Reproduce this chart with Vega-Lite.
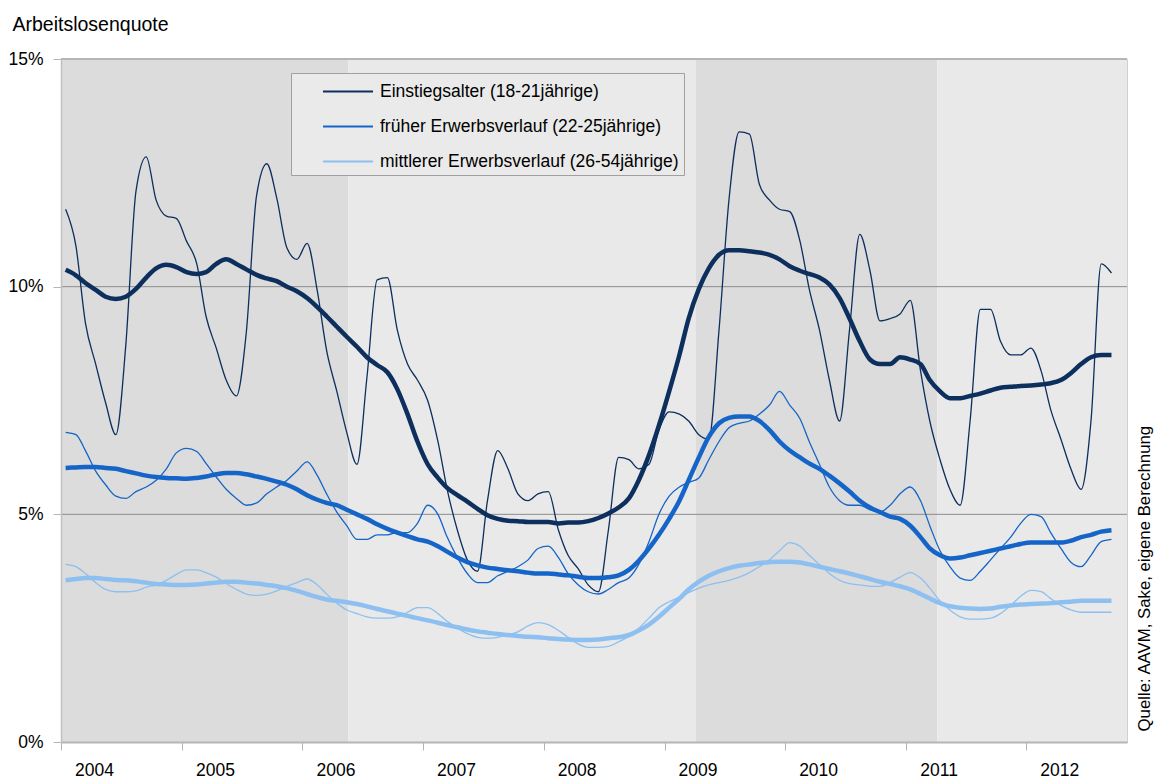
{
  "$schema": "https://vega.github.io/schema/vega-lite/v6.json",
  "width": 1066,
  "height": 683,
  "autosize": "none",
  "padding": {"left": 61, "top": 59, "right": 31, "bottom": 41},
  "background": "white",
  "config": {
    "font": "Liberation Sans",
    "view": {"stroke": "#d0d0d0", "strokeWidth": 1},
    "axis": {"labelFont": "Liberation Sans", "titleFont": "Liberation Sans", "labelColor": "#000000", "titleColor": "#000000", "titleFontWeight": "normal"},
    "legend": {"labelFont": "Liberation Sans"}
  },
  "datasets": {
    "raw": [
      {"d":"2004-01-15","E":11.7,"F":6.8,"M":3.9},
      {"d":"2004-02-15","E":10.9,"F":6.75,"M":3.85},
      {"d":"2004-03-15","E":9.2,"F":6.4,"M":3.7},
      {"d":"2004-04-15","E":8.3,"F":5.95,"M":3.5},
      {"d":"2004-05-15","E":7.45,"F":5.65,"M":3.35},
      {"d":"2004-06-15","E":6.75,"F":5.4,"M":3.3},
      {"d":"2004-07-15","E":8.7,"F":5.35,"M":3.3},
      {"d":"2004-08-15","E":12.1,"F":5.5,"M":3.32},
      {"d":"2004-09-15","E":12.85,"F":5.6,"M":3.4},
      {"d":"2004-10-15","E":11.9,"F":5.75,"M":3.45},
      {"d":"2004-11-15","E":11.55,"F":6.0,"M":3.55},
      {"d":"2004-12-15","E":11.5,"F":6.35,"M":3.68},
      {"d":"2005-01-15","E":11.0,"F":6.45,"M":3.78},
      {"d":"2005-02-15","E":10.5,"F":6.38,"M":3.78},
      {"d":"2005-03-15","E":9.35,"F":6.12,"M":3.72},
      {"d":"2005-04-15","E":8.65,"F":5.82,"M":3.62},
      {"d":"2005-05-15","E":7.95,"F":5.55,"M":3.48},
      {"d":"2005-06-15","E":7.6,"F":5.35,"M":3.35},
      {"d":"2005-07-15","E":9.0,"F":5.2,"M":3.25},
      {"d":"2005-08-15","E":12.0,"F":5.25,"M":3.22},
      {"d":"2005-09-15","E":12.7,"F":5.45,"M":3.25},
      {"d":"2005-10-15","E":11.95,"F":5.6,"M":3.32},
      {"d":"2005-11-15","E":10.85,"F":5.75,"M":3.42},
      {"d":"2005-12-15","E":10.6,"F":5.95,"M":3.5},
      {"d":"2006-01-15","E":10.95,"F":6.15,"M":3.58},
      {"d":"2006-02-15","E":9.9,"F":5.85,"M":3.45},
      {"d":"2006-03-15","E":8.6,"F":5.45,"M":3.25},
      {"d":"2006-04-15","E":7.7,"F":5.05,"M":3.05},
      {"d":"2006-05-15","E":6.8,"F":4.75,"M":2.9},
      {"d":"2006-06-15","E":6.1,"F":4.45,"M":2.82},
      {"d":"2006-07-15","E":8.0,"F":4.45,"M":2.75},
      {"d":"2006-08-15","E":10.15,"F":4.55,"M":2.72},
      {"d":"2006-09-15","E":10.2,"F":4.55,"M":2.72},
      {"d":"2006-10-15","E":9.05,"F":4.6,"M":2.75},
      {"d":"2006-11-15","E":8.3,"F":4.6,"M":2.85},
      {"d":"2006-12-15","E":7.95,"F":4.8,"M":2.95},
      {"d":"2007-01-15","E":7.5,"F":5.2,"M":2.95},
      {"d":"2007-02-15","E":6.6,"F":5.0,"M":2.82},
      {"d":"2007-03-15","E":5.55,"F":4.5,"M":2.65},
      {"d":"2007-04-15","E":4.65,"F":4.05,"M":2.5},
      {"d":"2007-05-15","E":4.0,"F":3.7,"M":2.38},
      {"d":"2007-06-15","E":3.75,"F":3.5,"M":2.3},
      {"d":"2007-07-15","E":5.3,"F":3.5,"M":2.28},
      {"d":"2007-08-15","E":6.4,"F":3.65,"M":2.3},
      {"d":"2007-09-15","E":6.0,"F":3.75,"M":2.35},
      {"d":"2007-10-15","E":5.45,"F":3.85,"M":2.42},
      {"d":"2007-11-15","E":5.3,"F":4.0,"M":2.55},
      {"d":"2007-12-15","E":5.45,"F":4.25,"M":2.62},
      {"d":"2008-01-15","E":5.5,"F":4.3,"M":2.58},
      {"d":"2008-02-15","E":4.65,"F":4.05,"M":2.45},
      {"d":"2008-03-15","E":4.1,"F":3.7,"M":2.3},
      {"d":"2008-04-15","E":3.8,"F":3.45,"M":2.15},
      {"d":"2008-05-15","E":3.45,"F":3.3,"M":2.08},
      {"d":"2008-06-15","E":3.3,"F":3.25,"M":2.08},
      {"d":"2008-07-15","E":4.65,"F":3.35,"M":2.1},
      {"d":"2008-08-15","E":6.25,"F":3.5,"M":2.2},
      {"d":"2008-09-15","E":6.2,"F":3.6,"M":2.32},
      {"d":"2008-10-15","E":6.0,"F":3.9,"M":2.5},
      {"d":"2008-11-15","E":6.1,"F":4.4,"M":2.72},
      {"d":"2008-12-15","E":6.85,"F":5.0,"M":2.95},
      {"d":"2009-01-15","E":7.25,"F":5.4,"M":3.08},
      {"d":"2009-02-15","E":7.2,"F":5.6,"M":3.18},
      {"d":"2009-03-15","E":7.05,"F":5.7,"M":3.28},
      {"d":"2009-04-15","E":6.75,"F":5.8,"M":3.38},
      {"d":"2009-05-15","E":6.65,"F":6.2,"M":3.45},
      {"d":"2009-06-15","E":9.05,"F":6.6,"M":3.5},
      {"d":"2009-07-15","E":11.9,"F":6.9,"M":3.55},
      {"d":"2009-08-15","E":13.4,"F":7.0,"M":3.62},
      {"d":"2009-09-15","E":13.35,"F":7.05,"M":3.72},
      {"d":"2009-10-15","E":12.25,"F":7.2,"M":3.85},
      {"d":"2009-11-15","E":11.9,"F":7.4,"M":4.0},
      {"d":"2009-12-15","E":11.7,"F":7.7,"M":4.2},
      {"d":"2010-01-15","E":11.65,"F":7.4,"M":4.38},
      {"d":"2010-02-15","E":11.0,"F":7.1,"M":4.3},
      {"d":"2010-03-15","E":9.95,"F":6.6,"M":4.1},
      {"d":"2010-04-15","E":9.05,"F":6.1,"M":3.9},
      {"d":"2010-05-15","E":7.95,"F":5.6,"M":3.7},
      {"d":"2010-06-15","E":7.05,"F":5.3,"M":3.55},
      {"d":"2010-07-15","E":9.05,"F":5.2,"M":3.48},
      {"d":"2010-08-15","E":11.15,"F":5.2,"M":3.45},
      {"d":"2010-09-15","E":10.35,"F":5.1,"M":3.42},
      {"d":"2010-10-15","E":9.25,"F":5.05,"M":3.42},
      {"d":"2010-11-15","E":9.3,"F":5.2,"M":3.5},
      {"d":"2010-12-15","E":9.4,"F":5.45,"M":3.62},
      {"d":"2011-01-15","E":9.7,"F":5.6,"M":3.72},
      {"d":"2011-02-15","E":8.15,"F":5.3,"M":3.6},
      {"d":"2011-03-15","E":7.05,"F":4.75,"M":3.38},
      {"d":"2011-04-15","E":6.2,"F":4.2,"M":3.1},
      {"d":"2011-05-15","E":5.55,"F":3.85,"M":2.9},
      {"d":"2011-06-15","E":5.2,"F":3.6,"M":2.75},
      {"d":"2011-07-15","E":7.05,"F":3.55,"M":2.7},
      {"d":"2011-08-15","E":9.5,"F":3.75,"M":2.7},
      {"d":"2011-09-15","E":9.5,"F":4.0,"M":2.72},
      {"d":"2011-10-15","E":8.8,"F":4.25,"M":2.82},
      {"d":"2011-11-15","E":8.5,"F":4.5,"M":3.0},
      {"d":"2011-12-15","E":8.5,"F":4.8,"M":3.2},
      {"d":"2012-01-15","E":8.65,"F":5.0,"M":3.33},
      {"d":"2012-02-15","E":8.15,"F":4.95,"M":3.3},
      {"d":"2012-03-15","E":7.3,"F":4.6,"M":3.15},
      {"d":"2012-04-15","E":6.65,"F":4.25,"M":3.0},
      {"d":"2012-05-15","E":6.0,"F":3.95,"M":2.9},
      {"d":"2012-06-15","E":5.55,"F":3.85,"M":2.85},
      {"d":"2012-07-15","E":7.05,"F":4.1,"M":2.85},
      {"d":"2012-08-15","E":10.5,"F":4.4,"M":2.85},
      {"d":"2012-09-15","E":10.3,"F":4.45,"M":2.85}
    ],
    "trend": [
      {"d":"2004-01-15","E":10.37,"F":6.02,"M":3.55},
      {"d":"2004-02-15","E":10.25,"F":6.03,"M":3.58},
      {"d":"2004-03-15","E":10.08,"F":6.04,"M":3.6},
      {"d":"2004-04-15","E":9.93,"F":6.04,"M":3.6},
      {"d":"2004-05-15","E":9.78,"F":6.02,"M":3.58},
      {"d":"2004-06-15","E":9.73,"F":6.0,"M":3.56},
      {"d":"2004-07-15","E":9.78,"F":5.95,"M":3.55},
      {"d":"2004-08-15","E":9.95,"F":5.9,"M":3.53},
      {"d":"2004-09-15","E":10.2,"F":5.85,"M":3.5},
      {"d":"2004-10-15","E":10.4,"F":5.82,"M":3.47},
      {"d":"2004-11-15","E":10.48,"F":5.8,"M":3.46},
      {"d":"2004-12-15","E":10.43,"F":5.79,"M":3.45},
      {"d":"2005-01-15","E":10.32,"F":5.78,"M":3.45},
      {"d":"2005-02-15","E":10.28,"F":5.8,"M":3.46},
      {"d":"2005-03-15","E":10.32,"F":5.83,"M":3.48},
      {"d":"2005-04-15","E":10.5,"F":5.88,"M":3.5},
      {"d":"2005-05-15","E":10.6,"F":5.91,"M":3.52},
      {"d":"2005-06-15","E":10.5,"F":5.91,"M":3.52},
      {"d":"2005-07-15","E":10.38,"F":5.88,"M":3.5},
      {"d":"2005-08-15","E":10.26,"F":5.83,"M":3.48},
      {"d":"2005-09-15","E":10.18,"F":5.78,"M":3.45},
      {"d":"2005-10-15","E":10.12,"F":5.72,"M":3.42},
      {"d":"2005-11-15","E":10.0,"F":5.65,"M":3.38},
      {"d":"2005-12-15","E":9.9,"F":5.55,"M":3.32},
      {"d":"2006-01-15","E":9.75,"F":5.42,"M":3.25},
      {"d":"2006-02-15","E":9.55,"F":5.32,"M":3.18},
      {"d":"2006-03-15","E":9.35,"F":5.25,"M":3.13},
      {"d":"2006-04-15","E":9.12,"F":5.2,"M":3.1},
      {"d":"2006-05-15","E":8.9,"F":5.1,"M":3.07},
      {"d":"2006-06-15","E":8.68,"F":5.0,"M":3.03},
      {"d":"2006-07-15","E":8.45,"F":4.9,"M":2.98},
      {"d":"2006-08-15","E":8.28,"F":4.78,"M":2.92},
      {"d":"2006-09-15","E":8.12,"F":4.68,"M":2.87},
      {"d":"2006-10-15","E":7.75,"F":4.6,"M":2.82},
      {"d":"2006-11-15","E":7.2,"F":4.52,"M":2.77},
      {"d":"2006-12-15","E":6.6,"F":4.45,"M":2.72},
      {"d":"2007-01-15","E":6.1,"F":4.4,"M":2.67},
      {"d":"2007-02-15","E":5.8,"F":4.3,"M":2.62},
      {"d":"2007-03-15","E":5.58,"F":4.18,"M":2.57},
      {"d":"2007-04-15","E":5.42,"F":4.05,"M":2.52},
      {"d":"2007-05-15","E":5.28,"F":3.95,"M":2.47},
      {"d":"2007-06-15","E":5.12,"F":3.88,"M":2.43},
      {"d":"2007-07-15","E":4.98,"F":3.83,"M":2.4},
      {"d":"2007-08-15","E":4.9,"F":3.8,"M":2.37},
      {"d":"2007-09-15","E":4.86,"F":3.77,"M":2.35},
      {"d":"2007-10-15","E":4.85,"F":3.75,"M":2.33},
      {"d":"2007-11-15","E":4.83,"F":3.72,"M":2.31},
      {"d":"2007-12-15","E":4.83,"F":3.7,"M":2.3},
      {"d":"2008-01-15","E":4.83,"F":3.7,"M":2.28},
      {"d":"2008-02-15","E":4.8,"F":3.68,"M":2.26},
      {"d":"2008-03-15","E":4.82,"F":3.66,"M":2.25},
      {"d":"2008-04-15","E":4.82,"F":3.63,"M":2.24},
      {"d":"2008-05-15","E":4.85,"F":3.6,"M":2.24},
      {"d":"2008-06-15","E":4.92,"F":3.6,"M":2.25},
      {"d":"2008-07-15","E":5.02,"F":3.62,"M":2.28},
      {"d":"2008-08-15","E":5.15,"F":3.66,"M":2.3},
      {"d":"2008-09-15","E":5.35,"F":3.78,"M":2.35},
      {"d":"2008-10-15","E":5.75,"F":3.98,"M":2.45},
      {"d":"2008-11-15","E":6.3,"F":4.25,"M":2.58},
      {"d":"2008-12-15","E":6.95,"F":4.55,"M":2.75},
      {"d":"2009-01-15","E":7.7,"F":4.9,"M":2.95},
      {"d":"2009-02-15","E":8.5,"F":5.3,"M":3.15},
      {"d":"2009-03-15","E":9.3,"F":5.75,"M":3.35},
      {"d":"2009-04-15","E":9.95,"F":6.25,"M":3.52},
      {"d":"2009-05-15","E":10.4,"F":6.7,"M":3.65},
      {"d":"2009-06-15","E":10.7,"F":7.0,"M":3.75},
      {"d":"2009-07-15","E":10.8,"F":7.12,"M":3.82},
      {"d":"2009-08-15","E":10.8,"F":7.15,"M":3.87},
      {"d":"2009-09-15","E":10.78,"F":7.15,"M":3.9},
      {"d":"2009-10-15","E":10.75,"F":7.05,"M":3.93},
      {"d":"2009-11-15","E":10.7,"F":6.85,"M":3.95},
      {"d":"2009-12-15","E":10.6,"F":6.6,"M":3.96},
      {"d":"2010-01-15","E":10.45,"F":6.4,"M":3.96},
      {"d":"2010-02-15","E":10.35,"F":6.25,"M":3.94},
      {"d":"2010-03-15","E":10.28,"F":6.12,"M":3.9},
      {"d":"2010-04-15","E":10.2,"F":6.0,"M":3.85},
      {"d":"2010-05-15","E":10.05,"F":5.85,"M":3.8},
      {"d":"2010-06-15","E":9.75,"F":5.68,"M":3.75},
      {"d":"2010-07-15","E":9.3,"F":5.5,"M":3.7},
      {"d":"2010-08-15","E":8.8,"F":5.3,"M":3.64},
      {"d":"2010-09-15","E":8.4,"F":5.15,"M":3.58},
      {"d":"2010-10-15","E":8.3,"F":5.05,"M":3.52},
      {"d":"2010-11-15","E":8.3,"F":4.95,"M":3.47},
      {"d":"2010-12-15","E":8.45,"F":4.9,"M":3.42},
      {"d":"2011-01-15","E":8.4,"F":4.75,"M":3.35},
      {"d":"2011-02-15","E":8.3,"F":4.5,"M":3.25},
      {"d":"2011-03-15","E":7.95,"F":4.25,"M":3.15},
      {"d":"2011-04-15","E":7.7,"F":4.1,"M":3.05},
      {"d":"2011-05-15","E":7.55,"F":4.03,"M":2.98},
      {"d":"2011-06-15","E":7.55,"F":4.05,"M":2.95},
      {"d":"2011-07-15","E":7.6,"F":4.1,"M":2.93},
      {"d":"2011-08-15","E":7.65,"F":4.15,"M":2.92},
      {"d":"2011-09-15","E":7.72,"F":4.2,"M":2.93},
      {"d":"2011-10-15","E":7.78,"F":4.25,"M":2.97},
      {"d":"2011-11-15","E":7.8,"F":4.3,"M":3.0},
      {"d":"2011-12-15","E":7.82,"F":4.35,"M":3.02},
      {"d":"2012-01-15","E":7.83,"F":4.38,"M":3.03},
      {"d":"2012-02-15","E":7.85,"F":4.38,"M":3.04},
      {"d":"2012-03-15","E":7.88,"F":4.38,"M":3.05},
      {"d":"2012-04-15","E":7.95,"F":4.38,"M":3.07},
      {"d":"2012-05-15","E":8.1,"F":4.42,"M":3.08},
      {"d":"2012-06-15","E":8.3,"F":4.5,"M":3.1},
      {"d":"2012-07-15","E":8.45,"F":4.55,"M":3.1},
      {"d":"2012-08-15","E":8.5,"F":4.62,"M":3.1},
      {"d":"2012-09-15","E":8.5,"F":4.65,"M":3.1}
    ],
    "bands": [
      {"s":"2004-01-01","e":"2006-05-20","k":"dunkel"},
      {"s":"2006-05-20","e":"2009-04-05","k":"hell"},
      {"s":"2009-04-05","e":"2011-04-07","k":"dunkel"},
      {"s":"2011-04-07","e":"2012-11-01","k":"hell"}
    ],
    "lines": [
      {"v":5,"k":"grid"},
      {"v":10,"k":"grid"},
      {"v":15,"k":"top"}
    ]
  },
  "layer": [
    {
      "data": {"name": "bands"},
      "mark": {"type": "rect"},
      "encoding": {
        "x": {"field": "s", "type": "temporal", "title": null,
          "scale": {"type": "utc", "domain": [{"year":2004,"month":1,"date":1,"utc":true},{"year":2012,"month":11,"date":1,"utc":true}]},
          "axis": {
            "values": [{"year":2004,"utc":true},{"year":2005,"utc":true},{"year":2006,"utc":true},{"year":2007,"utc":true},{"year":2008,"utc":true},{"year":2009,"utc":true},{"year":2010,"utc":true},{"year":2011,"utc":true},{"year":2012,"utc":true}],
            "format": "%Y", "formatType": "utc",
            "labelOffset": 33, "labelFontSize": 17.5, "labelPadding": 11, "labelAlign": "center",
            "tickSize": 8, "tickColor": "#b5b5b5", "tickWidth": 1,
            "domainColor": "#b5b5b5", "domainWidth": 2, "grid": false, "zindex": 1
          }
        },
        "x2": {"field": "e"},
        "y": {"datum": 0, "type": "quantitative", "scale": {"domain": [0, 15], "nice": false},
          "axis": {
            "values": [0, 5, 10, 15], "labelExpr": "datum.value + '%'",
            "labelFontSize": 17.5, "labelPadding": 10, "tickSize": 8, "tickColor": "#b5b5b5",
            "domainColor": "#c0c0c0", "domainWidth": 1.5, "grid": false, "zindex": 1,
            "title": "Arbeitslosenquote", "titleAngle": 0, "titleAlign": "left", "titleBaseline": "alphabetic",
            "titleX": -49, "titleY": -29, "titleFontSize": 19.5
          }
        },
        "y2": {"datum": 15},
        "fill": {"field": "k", "type": "nominal", "legend": null,
          "scale": {"domain": ["dunkel", "hell"], "range": ["#dcdcdc", "#e9e9e9"]}}
      }
    },
    {
      "data": {"name": "lines"},
      "mark": {"type": "rule"},
      "encoding": {
        "y": {"field": "v", "type": "quantitative", "scale": {"domain": [0, 15], "nice": false},
          "axis": {
            "orient": "right", "labels": false, "ticks": false, "domain": false, "grid": false,
            "title": "Quelle: AAVM, Sake, eigene Berechnung", "titleAngle": 270, "titleAlign": "left",
            "titleBaseline": "alphabetic", "titleX": 22, "titleY": 672, "titleFontSize": 16.8
          }
        },
        "color": {"condition": {"test": "datum.k == 'top'", "value": "#b5b5b5"}, "value": "#8c8c8c"},
        "strokeWidth": {"condition": {"test": "datum.k == 'top'", "value": 2}, "value": 1}
      }
    },
    {
      "data": {"name": "raw"},
      "transform": [{"fold": ["E", "F", "M"], "as": ["s", "v"]}],
      "mark": {"type": "line", "interpolate": "monotone", "strokeWidth": 1.3},
      "encoding": {
        "x": {"field": "d", "type": "temporal", "title": null},
        "y": {"field": "v", "type": "quantitative", "axis": null, "scale": {"domain": [0, 15], "nice": false}},
        "color": {"field": "s", "type": "nominal",
          "scale": {"domain": ["E", "F", "M"], "range": ["#0c2f5e", "#1565c8", "#8dc0f0"]},
          "legend": {
            "orient": "none", "legendX": 230, "legendY": 14, "title": null,
            "labelExpr": "datum.label == 'E' ? 'Einstiegsalter (18-21jährige)' : datum.label == 'F' ? 'früher Erwerbsverlauf (22-25jährige)' : 'mittlerer Erwerbsverlauf (26-54jährige)'",
            "labelFontSize": 17.5, "labelColor": "#000000", "labelOffset": 18.5, "labelLimit": 500,
            "symbolType": "M-2,0H2", "symbolSize": 625, "symbolStrokeWidth": 2, "symbolOffset": 38.5,
            "rowPadding": 13, "padding": 5,
            "fillColor": "#eaeaea", "strokeColor": "#a0a0a0"
          }
        }
      }
    },
    {
      "data": {"name": "trend"},
      "transform": [{"fold": ["E", "F", "M"], "as": ["s", "v"]}],
      "mark": {"type": "line", "interpolate": "monotone", "strokeWidth": 4.5},
      "encoding": {
        "x": {"field": "d", "type": "temporal", "title": null},
        "y": {"field": "v", "type": "quantitative", "axis": null, "scale": {"domain": [0, 15], "nice": false}},
        "color": {"field": "s", "type": "nominal"}
      }
    }
  ],
  "resolve": {"axis": {"y": "independent"}}
}
